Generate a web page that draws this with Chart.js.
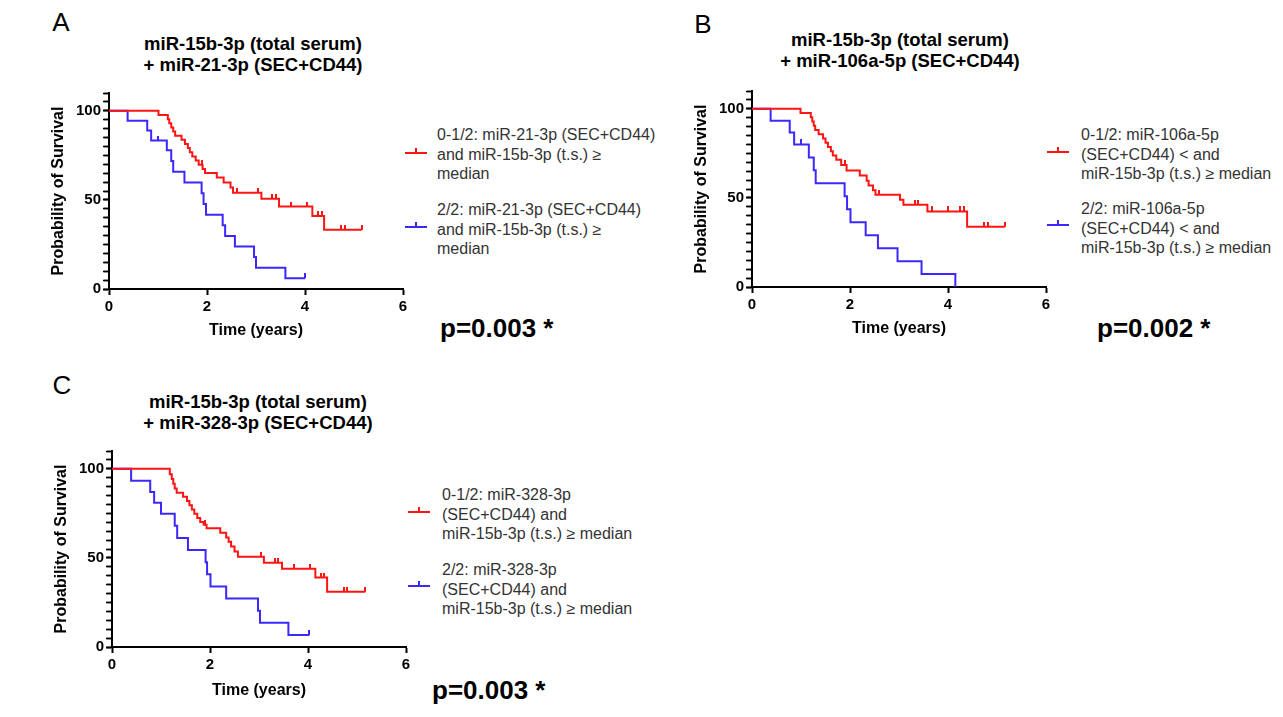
<!DOCTYPE html>
<html>
<head>
<meta charset="utf-8">
<script src="https://cdn.jsdelivr.net/npm/chart.js@4.4.1/dist/chart.umd.min.js"></script>
<style>
  body { margin: 0; width: 1283px; height: 717px; overflow: hidden; background: #fff;
         font-family: "Liberation Sans", Arial, sans-serif; position: relative; }
  .abs { position: absolute; }
  .letter { font-size: 26px; color: #000; transform: translate(-50%, -50%); }
  .title { font-weight: bold; font-size: 18.5px; line-height: 21px; text-align: center;
           transform: translateX(-50%); white-space: nowrap; color: #000; }
  .leg { font-size: 16px; line-height: 19.5px; color: #333; white-space: nowrap; }
  .sym { position: absolute; width: 22px; height: 2px; }
  .sym::after { content: ''; position: absolute; left: 10px; top: -4px; width: 2px; height: 4px; background: inherit; }
  .pval { font-weight: bold; font-size: 26px; line-height: 30px; white-space: nowrap; color: #000; }
  canvas { position: absolute; }
</style>
</head>
<body>
<div class="abs letter" style="left:61px;top:22px">A</div>
<div class="abs letter" style="left:703px;top:24px">B</div>
<div class="abs letter" style="left:62px;top:385px">C</div>

<div class="abs title" id="titleA" style="left:253px;top:33px"></div>
<div class="abs title" id="titleB" style="left:900px;top:29px"></div>
<div class="abs title" id="titleC" style="left:258px;top:391px"></div>

<div class="sym" style="left:405px;top:152px;background:#ff1414"></div>
<div class="sym" style="left:405px;top:226px;background:#3c28ff"></div>
<div class="abs leg" id="legA1" style="left:437px;top:125px"></div>
<div class="abs leg" id="legA2" style="left:437px;top:200px"></div>

<div class="sym" style="left:1047px;top:151px;background:#ff1414"></div>
<div class="sym" style="left:1047px;top:224px;background:#3c28ff"></div>
<div class="abs leg" id="legB1" style="left:1081px;top:125px"></div>
<div class="abs leg" id="legB2" style="left:1081px;top:199px"></div>

<div class="sym" style="left:408px;top:511px;background:#ff1414"></div>
<div class="sym" style="left:408px;top:585px;background:#3c28ff"></div>
<div class="abs leg" id="legC1" style="left:442px;top:485px"></div>
<div class="abs leg" id="legC2" style="left:442px;top:560px"></div>

<div class="abs pval" id="pA" style="left:440px;top:313px"></div>
<div class="abs pval" id="pB" style="left:1097px;top:313px"></div>
<div class="abs pval" id="pC" style="left:432px;top:675px"></div>

<canvas id="chartA" width="390" height="280" style="left:30px;top:80px"></canvas>
<canvas id="chartB" width="390" height="280" style="left:673px;top:78px"></canvas>
<canvas id="chartC" width="390" height="280" style="left:33px;top:438px"></canvas>

<script>
/* global Chart */

// Panel A: miR-15b-3p + miR-21-3p
const aRedTime = [0, 1.01, 1.20, 1.23, 1.27, 1.31, 1.35, 1.48, 1.55, 1.61, 1.65, 1.70, 1.77, 1.83, 1.91, 1.96, 2.20, 2.34, 2.48, 2.53, 3.11, 3.47, 4.15, 4.39, 5.16]
const aRedSurv = [100, 97.7, 95.3, 93.0, 90.7, 88.4, 86.0, 83.7, 81.4, 79.1, 76.7, 74.4, 72.1, 69.8, 67.4, 65.1, 62.6, 59.8, 57.0, 54.0, 50.7, 46.3, 40.9, 33.2, 33.2]
const aRedCensTime = [1.89, 2.61, 3.04, 3.32, 3.40, 3.71, 4.04, 4.26, 4.34, 4.74, 4.81, 5.16]
const aRedCensSurv = [69.8, 54.0, 54.0, 50.7, 50.7, 46.3, 46.3, 40.9, 40.9, 33.2, 33.2, 33.2]
const aBlueTime = [0, 0.38, 0.78, 0.86, 1.18, 1.27, 1.31, 1.54, 1.89, 1.93, 1.98, 2.32, 2.37, 2.57, 2.96, 3.00, 3.60, 4.00]
const aBlueSurv = [100, 94.4, 88.9, 83.3, 77.8, 71.8, 65.8, 59.8, 53.7, 47.7, 41.7, 35.8, 29.8, 23.8, 17.9, 11.9, 6.0, 6.0]
const aBlueCensTime = [1.01, 4.00]
const aBlueCensSurv = [83.3, 6.0]

// Panel B: miR-15b-3p + miR-106a-5p
const bRedTime = [0, 0.99, 1.20, 1.23, 1.26, 1.29, 1.36, 1.45, 1.50, 1.55, 1.61, 1.65, 1.72, 1.82, 1.93, 2.20, 2.34, 2.38, 2.47, 2.52, 3.02, 3.09, 3.58, 4.39, 5.16]
const bRedSurv = [100, 97.6, 95.2, 92.9, 90.5, 88.1, 85.7, 83.3, 81.0, 78.6, 76.2, 73.8, 71.4, 68.5, 65.4, 62.6, 59.7, 57.0, 54.3, 51.8, 48.9, 46.2, 42.4, 33.8, 33.8]
const bRedCensTime = [1.89, 2.59, 3.32, 3.39, 3.68, 4.00, 4.24, 4.32, 4.74, 4.81, 5.16]
const bRedCensSurv = [68.5, 51.8, 46.2, 46.2, 42.4, 42.4, 42.4, 42.4, 33.8, 33.8, 33.8]
const bBlueTime = [0, 0.38, 0.77, 0.86, 1.16, 1.26, 1.30, 1.89, 1.94, 2.01, 2.32, 2.57, 2.97, 3.46, 4.15]
const bBlueSurv = [100, 93.3, 86.7, 80.0, 72.7, 65.5, 58.2, 50.9, 43.6, 36.4, 29.1, 21.8, 14.5, 7.3, 0]
const bBlueCensTime = [1.01]
const bBlueCensSurv = [80.0]

// Panel C: miR-15b-3p + miR-328-3p
const cRedTime = [0, 1.18, 1.22, 1.25, 1.28, 1.32, 1.45, 1.53, 1.58, 1.63, 1.68, 1.74, 1.80, 1.87, 1.93, 2.21, 2.33, 2.38, 2.43, 2.50, 2.57, 3.10, 3.47, 4.15, 4.39, 5.17]
const cRedSurv = [100, 96.9, 94.3, 91.6, 89.0, 86.5, 84.3, 82.0, 79.6, 77.2, 74.8, 72.4, 70.1, 68.6, 66.6, 64.1, 61.5, 59.0, 56.4, 53.6, 50.6, 47.3, 43.9, 39.0, 31.0, 31.0]
const cRedCensTime = [1.90, 3.04, 3.32, 3.39, 3.71, 4.05, 4.26, 4.32, 4.73, 4.80, 5.17]
const cRedCensSurv = [68.6, 50.6, 47.3, 47.3, 43.9, 43.9, 39.0, 39.0, 31.0, 31.0, 31.0]
const cBlueTime = [0, 0.39, 0.78, 0.86, 1.00, 1.28, 1.33, 1.55, 1.91, 1.94, 2.01, 2.33, 2.98, 3.02, 3.60, 4.03]
const cBlueSurv = [100, 93.3, 87.0, 80.9, 74.8, 68.0, 61.2, 54.4, 47.6, 40.8, 34.0, 27.2, 20.4, 13.6, 6.8, 6.8]
const cBlueCensTime = [4.03]
const cBlueCensSurv = [6.8]

const titlesA = ['miR-15b-3p (total serum)', '+ miR-21-3p (SEC+CD44)']
const titlesB = ['miR-15b-3p (total serum)', '+ miR-106a-5p (SEC+CD44)']
const titlesC = ['miR-15b-3p (total serum)', '+ miR-328-3p (SEC+CD44)']

const legendA = [
  ['0-1/2: miR-21-3p (SEC+CD44)', 'and miR-15b-3p (t.s.) \u2265', 'median'],
  ['2/2: miR-21-3p (SEC+CD44)', 'and miR-15b-3p (t.s.) \u2265', 'median']
]
const legendB = [
  ['0-1/2: miR-106a-5p', '(SEC+CD44) < and', 'miR-15b-3p (t.s.) \u2265 median'],
  ['2/2: miR-106a-5p', '(SEC+CD44) < and', 'miR-15b-3p (t.s.) \u2265 median']
]
const legendC = [
  ['0-1/2: miR-328-3p', '(SEC+CD44) and', 'miR-15b-3p (t.s.) \u2265 median'],
  ['2/2: miR-328-3p', '(SEC+CD44) and', 'miR-15b-3p (t.s.) \u2265 median']
]
const pValues = ['p=0.003 *', 'p=0.002 *', 'p=0.003 *']

const xTitle = 'Time (years)'
const yTitle = 'Probability of Survival'

const RED = '#ff1414'
const BLUE = '#3c28ff'

Chart.defaults.color = '#000'
Chart.defaults.font.family = "'Liberation Sans', Arial, sans-serif"

const setLines = (id, lines) => { document.getElementById(id).innerHTML = lines.join('<br>') }
setLines('titleA', titlesA); setLines('titleB', titlesB); setLines('titleC', titlesC)
setLines('legA1', legendA[0]); setLines('legA2', legendA[1])
setLines('legB1', legendB[0]); setLines('legB2', legendB[1])
setLines('legC1', legendC[0]); setLines('legC2', legendC[1])
document.getElementById('pA').textContent = pValues[0]
document.getElementById('pB').textContent = pValues[1]
document.getElementById('pC').textContent = pValues[2]

// small upward tick for censored points
const censorMark = color => {
  const c = document.createElement('canvas')
  c.width = 2; c.height = 10
  const g = c.getContext('2d')
  g.fillStyle = color
  g.fillRect(0, 0, 2, 5)
  return c
}

const pts = (xs, ys) => xs.map((x, i) => ({ x, y: ys[i] }))

const steps = (xs, ys, color) => ({
  data: pts(xs, ys), borderColor: color, borderWidth: 2, stepped: true, pointRadius: 0, fill: false
})
const censored = (xs, ys, color) => ({
  data: pts(xs, ys), showLine: false, pointStyle: censorMark(color), pointRadius: 5, borderColor: color
})

function survChart (id, sets, xTitleBottom) {
  new Chart(document.getElementById(id), {
    type: 'line',
    data: { datasets: sets },
    options: {
      responsive: false,
      animation: false,
      layout: { padding: { left: 0, right: 17, top: 13, bottom: 0 } },
      plugins: { legend: { display: false }, tooltip: { enabled: false } },
      scales: {
        x: {
          type: 'linear', min: 0, max: 6,
          ticks: { stepSize: 2, font: { size: 15, weight: 'bold' }, padding: 3 },
          grid: { drawOnChartArea: false, tickLength: 6, tickWidth: 2, tickColor: '#000' },
          border: { color: '#000', width: 2 },
          title: { display: true, text: xTitle, font: { size: 16, weight: 'bold' }, padding: { top: 0, bottom: xTitleBottom } },
          afterFit: s => { s.height = 71 }
        },
        y: {
          min: 0, max: 110, weight: 0,
          ticks: {
            stepSize: 5, maxTicksLimit: 40, autoSkip: false, padding: 2,
            font: { size: 15, weight: 'bold' },
            callback: v => (v % 50 === 0 ? String(v) : '')
          },
          grid: {
            drawOnChartArea: false, tickLength: 6, tickColor: '#000',
            tickWidth: c => (c.tick && c.tick.value % 50 === 0 ? 2 : 1.5)
          },
          border: { color: '#000', width: 2 },
          title: { display: true, text: yTitle, font: { size: 16, weight: 'bold' }, padding: { top: 19, bottom: 0 } },
          afterFit: s => { s.width = 79 }
        },
        // zero-width companion axis that only draws the minor tick marks
        yMinor: {
          type: 'linear', position: 'left', weight: -1, min: 0, max: 110,
          ticks: { display: false, stepSize: 5, maxTicksLimit: 40, autoSkip: false },
          grid: { drawOnChartArea: false, tickLength: 5, tickColor: '#000', tickWidth: 1.5 },
          border: { display: false },
          afterFit: s => { s.width = 0 }
        }
      }
    }
  })
}

survChart('chartA', [
  steps(aRedTime, aRedSurv, RED), steps(aBlueTime, aBlueSurv, BLUE),
  censored(aRedCensTime, aRedCensSurv, RED), censored(aBlueCensTime, aBlueCensSurv, BLUE)
], 20)
survChart('chartB', [
  steps(bRedTime, bRedSurv, RED), steps(bBlueTime, bBlueSurv, BLUE),
  censored(bRedCensTime, bRedCensSurv, RED), censored(bBlueCensTime, bBlueCensSurv, BLUE)
], 20)
survChart('chartC', [
  steps(cRedTime, cRedSurv, RED), steps(cBlueTime, cBlueSurv, BLUE),
  censored(cRedCensTime, cRedCensSurv, RED), censored(cBlueCensTime, cBlueCensSurv, BLUE)
], 18)
</script>
</body>
</html>
